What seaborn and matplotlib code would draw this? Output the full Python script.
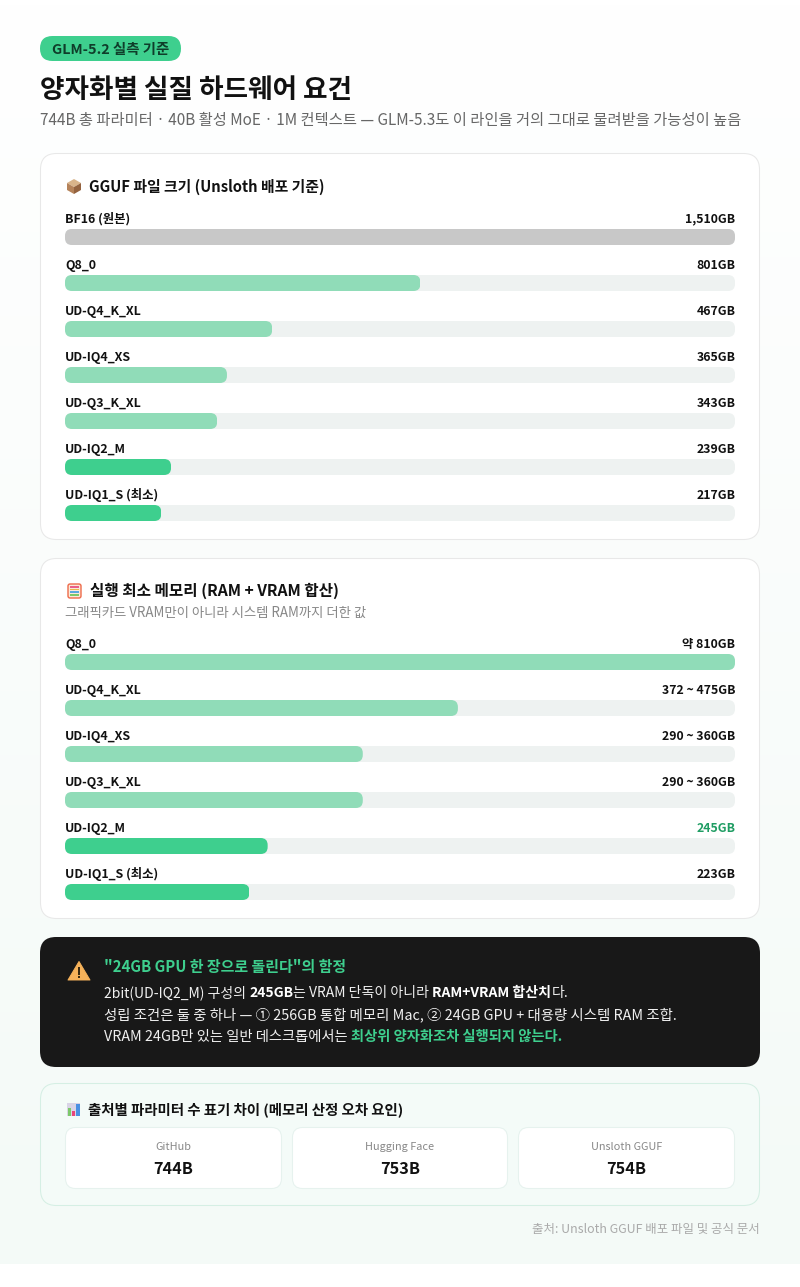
import numpy as np
import matplotlib
matplotlib.use("Agg")
import matplotlib.pyplot as plt
from matplotlib.patches import FancyBboxPatch, Polygon, Rectangle
import seaborn as sns

sns.set_theme(style="white")
FONT = ['Noto Sans CJK KR', 'DejaVu Sans']
plt.rcParams['font.family'] = FONT

# ---- data ----
file_names = ["BF16 (원본)", "Q8_0", "UD-Q4_K_XL", "UD-IQ4_XS", "UD-Q3_K_XL", "UD-IQ2_M", "UD-IQ1_S (최소)"]
file_sizes = [1510, 801, 467, 365, 343, 239, 217]
file_labels = ["1,510GB", "801GB", "467GB", "365GB", "343GB", "239GB", "217GB"]
file_colors = ["#c8c8c8", "#90dcb8", "#90dcb8", "#90dcb8", "#90dcb8", "#3ecf8e", "#3ecf8e"]

mem_names = ["Q8_0", "UD-Q4_K_XL", "UD-IQ4_XS", "UD-Q3_K_XL", "UD-IQ2_M", "UD-IQ1_S (최소)"]
mem_sizes = [810, 475, 360, 360, 245, 223]
mem_labels = ["약 810GB", "372 ~ 475GB", "290 ~ 360GB", "290 ~ 360GB", "245GB", "223GB"]
mem_colors = ["#90dcb8", "#90dcb8", "#90dcb8", "#90dcb8", "#3ecf8e", "#3ecf8e"]
mem_label_colors = ["#111111", "#111111", "#111111", "#111111", "#1f9d63", "#111111"]

stat_names = ["GitHub", "Hugging Face", "Unsloth GGUF"]
stat_values = ["744B", "753B", "754B"]

W, H = 800, 1287
fig = plt.figure(figsize=(W / 100, H / 100), dpi=100, facecolor="white")
bg = fig.add_axes([0, 0, 1, 1], zorder=0)
bg.set_axis_off()

# page gradient
grad = np.linspace(0, 1, 256)[:, None, None]
c0, c1 = np.array([1, 1, 1.0]), np.array([0xf4, 0xfa, 0xf7]) / 255
bg.imshow(c0 + (c1 - c0) * grad, extent=(0, W, 1264, 0), aspect="auto", zorder=0)
bg.set_xlim(0, W)
bg.set_ylim(H, 0)
renderer = fig.canvas.get_renderer()


def box(x0, y0, x1, y1, r, fc, ec="none", lw=0.75, z=1):
    p = FancyBboxPatch((x0, y0), x1 - x0, y1 - y0, boxstyle=f"round,pad=0,rounding_size={r}",
                       fc=fc, ec=ec, lw=lw if ec != "none" else 0, zorder=z, transform=bg.transData)
    bg.add_patch(p)
    return p


def px(p):
    return p * 0.72


def adv(s, size, weight):
    a = bg.text(0, 0, s + "|", fontsize=px(size), fontweight=weight, family=FONT)
    b = bg.text(0, 0, "|", fontsize=px(size), fontweight=weight, family=FONT)
    w = a.get_window_extent(renderer).width - b.get_window_extent(renderer).width
    a.remove()
    b.remove()
    return w


def txt(x, yc, s, size, color="#111111", weight="normal", ha="left", width=None):
    if width is not None:
        size = size * width / adv(s, size, weight)
    return bg.text(x, yc + 4.8 * size / 13, s, fontsize=px(size), color=color, fontweight=weight,
                   ha=ha, va="baseline", zorder=5, family=FONT)


def runs(x, yc, parts, size, width):
    size = size * width / sum(adv(s, size, w) for s, _, w in parts)
    for s, color, weight in parts:
        txt(x, yc, s, size, color, weight)
        x += adv(s, size, weight)


def bar_panel(top, names, values, labels, colors, label_colors, xmax):
    n = len(names)
    pitch, bh = 46, 16
    ax = fig.add_axes([65 / W, 1 - (top + pitch * (n - 1) + bh) / H, 670 / W, (pitch * (n - 1) + bh) / H], zorder=1)
    ax.patch.set_alpha(0)
    sns.barplot(x=[xmax] * n, y=names, orient="h", color="#eef2f1", saturation=1, width=bh / pitch, ax=ax)
    sns.barplot(x=values, y=names, hue=names, palette=colors, orient="h", saturation=1, dodge=False,
                legend=False, width=bh / pitch, ax=ax)
    ax.set_xlim(0, xmax)
    ax.set_ylim(n - 1 + 0.5 * bh / pitch, -0.5 * bh / pitch)
    ax.set_axis_off()
    fig.canvas.draw()
    to_px = ax.transData + bg.transData.inverted()
    for bar in ax.patches:
        (x0, y0), (x1, y1) = to_px.transform([(bar.get_x(), bar.get_y()),
                                              (bar.get_x() + bar.get_width(), bar.get_y() + bar.get_height())])
        if x1 - x0 < 1:
            continue
        y0, y1 = min(y0, y1), max(y0, y1)
        clip = FancyBboxPatch((x0, y0), x1 - x0, y1 - y0, boxstyle="round,pad=0,rounding_size=7",
                              transform=bg.transData)
        bar.set_linewidth(0)
        bar.set_clip_path(clip)
    for i in range(n):
        yc = top - 11 + pitch * i
        txt(65, yc, names[i], 12.4, "#111111", "bold")
        txt(735.5, yc, labels[i], 12.3, label_colors[i], "bold", ha="right")
    return ax


# ---- header ----
box(40, 36, 181, 61, 12.5, "#3ecf8e")
txt(52, 49, "GLM-5.2 실측 기준", 13, "#0f3d2a", "bold", width=117)
txt(40, 88, "양자화별 실질 하드웨어 요건", 25, "#111111", "bold", width=312)
txt(40, 119, "744B 총 파라미터 · 40B 활성 MoE · 1M 컨텍스트 — GLM-5.3도 이 라인을 거의 그대로 물려받을 가능성이 높음",
    14, "#666666", width=700)

# ---- card 1 ----
box(40.5, 153.5, 759.5, 539.5, 16, "white", "#e8e8e8")
bg.add_patch(Polygon([(67, 183), (74, 179), (81, 183), (74, 187)], fc="#d9b48a", lw=0, zorder=3))
bg.add_patch(Polygon([(67, 183), (74, 187), (74, 194), (67, 190)], fc="#b5835a", lw=0, zorder=3))
bg.add_patch(Polygon([(74, 187), (81, 183), (81, 190), (74, 194)], fc="#94633f", lw=0, zorder=3))
txt(89, 186, "GGUF 파일 크기 (Unsloth 배포 기준)", 14, "#111111", "bold", width=236)
bar_panel(229, file_names, file_sizes, file_labels, file_colors, ["#111111"] * 7, 1510)

# ---- card 2 ----
box(40.5, 558.5, 759.5, 918.5, 16, "white", "#e8e8e8")
box(68, 584, 81, 598, 2, "#fbe9d8", "#ee6a4a", 1.0, z=3)
for k, col in enumerate(["#e9608a", "#e8b84a", "#5aa7e0", "#7cc86a"]):
    bg.add_patch(Rectangle((70, 586 + k * 2.6), 9, 1.8, fc=col, lw=0, zorder=4))
txt(90, 590, "실행 최소 메모리 (RAM + VRAM 합산)", 14, "#111111", "bold", width=249)
txt(65, 612, "그래픽카드 VRAM만이 아니라 시스템 RAM까지 더한 값", 12, "#888888", width=301)
bar_panel(654, mem_names, mem_sizes, mem_labels, mem_colors, mem_label_colors, 810)

# ---- warning ----
box(40, 937, 760, 1067, 16, "#181818")
bg.add_patch(Polygon([(79, 961.5), (90, 980), (68, 980)], closed=True, fc="#f6b25a", ec="#f6b25a", lw=0.7,
                     joinstyle="round", zorder=3))
bg.add_patch(Rectangle((78, 967), 2, 7.5, fc="#3a2a10", lw=0, zorder=4))
bg.add_patch(Rectangle((78, 976), 2, 2, fc="#3a2a10", lw=0, zorder=4))
txt(104, 966, "\"24GB GPU 한 장으로 돌린다\"의 함정", 14, "#3ecf8e", "bold", width=242)
L, G = "#f0f0f0", "#3ecf8e"
runs(104, 992, [("2bit(UD-IQ2_M) 구성의 ", L, "normal"), ("245GB", "white", "bold"), ("는 VRAM 단독이 아니라 ", L, "normal"),
                ("RAM+VRAM 합산치", "white", "bold"), ("다.", L, "normal")], 13, 465)
runs(104, 1014, [("성립 조건은 둘 중 하나 — ① 256GB 통합 메모리 Mac, ② 24GB GPU + 대용량 시스템 RAM 조합.", L, "normal")], 13, 571)
runs(104, 1036, [("VRAM 24GB만 있는 일반 데스크톱에서는 ", L, "normal"), ("최상위 양자화조차 실행되지 않는다.", G, "bold")], 13, 459)

# ---- stats ----
box(40.5, 1083.5, 759.5, 1205.5, 16, "#f4fbf8", "#d5efe4")
bg.add_patch(Rectangle((67, 1103), 13, 13, fc="#d9d4e6", lw=0, zorder=3))
for x0, y0, w, col in [(68, 1108, 3, "#7cc86a"), (72, 1111, 3, "#e8457a"), (76, 1104, 4, "#4a90e2")]:
    bg.add_patch(Rectangle((x0, y0), w, 1116 - y0, fc=col, lw=0, zorder=4))
txt(88, 1109, "출처별 파라미터 수 표기 차이 (메모리 산정 오차 요인)", 13, "#111111", "bold", width=318)
stat_x = [(65.5, 281.5), (292.5, 507.5), (518.5, 734.5)]
for (x0, x1), nm, val in zip(stat_x, stat_names, stat_values):
    box(x0, 1127.5, x1, 1188.5, 10, "white", "#e6f2ee", z=2)
    txt((x0 + x1) / 2, 1146, nm, 10.9, "#888888", ha="center")
    txt((x0 + x1) / 2, 1168, val, 17, "#111111", "bold", ha="center", width=40)

txt(760, 1228, "출처: Unsloth GGUF 배포 파일 및 공식 문서", 12, "#aaaaaa", ha="right", width=227)

fig.savefig("out.png", dpi=100, facecolor="white")
